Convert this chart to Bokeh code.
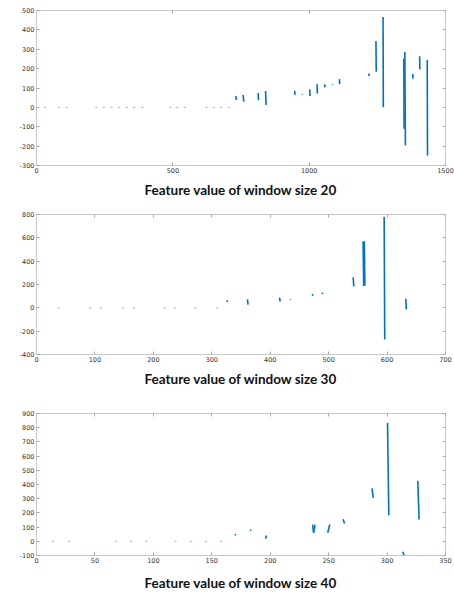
from bokeh.plotting import figure
from bokeh.layouts import column
from bokeh.models import LinearAxis, FixedTicker, Range1d
from bokeh.embed import file_html
from bokeh.resources import INLINE

# ---------------- data: window size 20 ----------------
w20_title = "Feature value of window size 20"
w20_xticks = [0, 500, 1000, 1500]
w20_yticks = [-300, -200, -100, 0, 100, 200, 300, 400, 500]
w20_zero_x = [31, 82, 110, 219, 247, 275, 303, 332, 357, 388, 491, 516, 543, 623, 650, 677, 705]
w20_x0 = [731, 758, 813, 840, 947, 974, 1002, 1029, 1057, 1084, 1111, 1219, 1245, 1271, 1347, 1351, 1380, 1405, 1433]
w20_x1 = [733, 760, 814, 842, 948, 975, 1003, 1030, 1058, 1086, 1112, 1220, 1246, 1272, 1348, 1353, 1381, 1406, 1434]
w20_y0 = [59, 64, 74, 85, 86, 69, 93, 120, 119, 118, 146, 175, 343, 466, 252, 286, 172, 264, 244]
w20_y1 = [38, 30, 37, 13, 64, 66, 59, 71, 103, 116, 120, 162, 184, 1, -110, -197, 148, 196, -249]

# ---------------- data: window size 30 ----------------
w30_title = "Feature value of window size 30"
w30_xticks = [0, 100, 200, 300, 400, 500, 600, 700]
w30_yticks = [-400, -200, 0, 200, 400, 600, 800]
w30_zero_x = [38, 92, 110, 148, 167, 219, 237, 272, 309]
w30_x0 = [326, 361, 416, 434, 472, 489, 542, 559, 561, 595, 632]
w30_x1 = [327, 362, 417, 435, 473, 490, 543, 560, 562, 596, 633]
w30_y0 = [64, 73, 87, 72, 118, 130, 262, 571, 571, 780, 78]
w30_y1 = [50, 27, 55, 68, 104, 118, 184, 187, 190, -271, -13]

# ---------------- data: window size 40 ----------------
w40_title = "Feature value of window size 40"
w40_xticks = [0, 50, 100, 150, 200, 250, 300, 350]
w40_yticks = [-100, 0, 100, 200, 300, 400, 500, 600, 700, 800, 900]
w40_zero_x = [14, 28, 68, 81, 94, 119, 132, 145, 158]
w40_x0 = [170, 183, 196, 236.3, 237.1, 249.2, 262.4, 287.1, 300.4, 313.4, 326.3]
w40_x1 = [170.5, 183.5, 196.8, 237.1, 238.3, 251.0, 263.6, 288.2, 301.5, 314.6, 327.4]
w40_y0 = [41, 74, 18, 118, 60, 60, 156, 372, 834, -74, 426]
w40_y1 = [50, 83, 41, 60, 118, 118, 125, 306, 184, -100, 154]

BLUE = "#0072BD"
FRAME = "#c8c8c8"
LABEL = "#333333"


def panel(title, xticks, yticks, zx, x0, x1, y0, y1, height, btop, bbottom, label_standoff):
    p = figure(width=454, height=height,
               x_range=Range1d(xticks[0], xticks[-1]),
               y_range=Range1d(yticks[0], yticks[-1]),
               output_backend="svg", toolbar_location=None,
               min_border_left=36, min_border_right=9,
               min_border_top=btop, min_border_bottom=bbottom)
    p.grid.visible = False
    p.outline_line_color = FRAME
    p.background_fill_color = "white"

    p.segment(x0=x0, y0=y0, x1=x1, y1=y1, line_color=BLUE, line_width=1.6)
    p.scatter(x=zx, y=[0] * len(zx), marker="dash", size=2,
              line_color=BLUE, line_alpha=0.5, line_width=1)

    for ax, ticks in ((p.xaxis[0], xticks), (p.yaxis[0], yticks)):
        ax.ticker = FixedTicker(ticks=ticks)
        ax.axis_line_color = FRAME
        ax.major_tick_line_color = "#aaaaaa"
        ax.major_tick_in = 3
        ax.major_tick_out = 0
        ax.minor_tick_line_color = None
        ax.major_label_text_font = "DejaVu Sans"
        ax.major_label_text_font_size = "6.5px"
        ax.major_label_text_color = LABEL
        ax.major_label_standoff = 2
        ax.major_label_overrides = {t: str(t) for t in ticks}

    p.xaxis[0].axis_label = title
    p.xaxis[0].axis_label_text_font = "Lato"
    p.xaxis[0].axis_label_text_font_style = "bold"
    p.xaxis[0].axis_label_text_font_size = "13.5px"
    p.xaxis[0].axis_label_text_color = "#111111"
    p.xaxis[0].axis_label_standoff = label_standoff

    for loc, ticks in (("above", xticks), ("right", yticks)):
        ax = LinearAxis(ticker=FixedTicker(ticks=ticks))
        ax.axis_line_color = None
        ax.major_tick_line_color = "#aaaaaa"
        ax.major_tick_in = 3
        ax.major_tick_out = 0
        ax.minor_tick_line_color = None
        ax.major_label_overrides = {t: "" for t in ticks}
        ax.major_label_standoff = 0
        p.add_layout(ax, loc)
    return p


p1 = panel(w20_title, w20_xticks, w20_yticks, w20_zero_x, w20_x0, w20_x1, w20_y0, w20_y1,
           200, 10, 34, 6)
p2 = panel(w30_title, w30_xticks, w30_yticks, w30_zero_x, w30_x0, w30_x1, w30_y0, w30_y1,
           195, 14, 41, 6)
p3 = panel(w40_title, w40_xticks, w40_yticks, w40_zero_x, w40_x0, w40_x1, w40_y0, w40_y1,
           198, 18, 38, 9)

layout = column(p1, p2, p3, spacing=0)
open("out.html", "w").write(file_html(layout, INLINE))
